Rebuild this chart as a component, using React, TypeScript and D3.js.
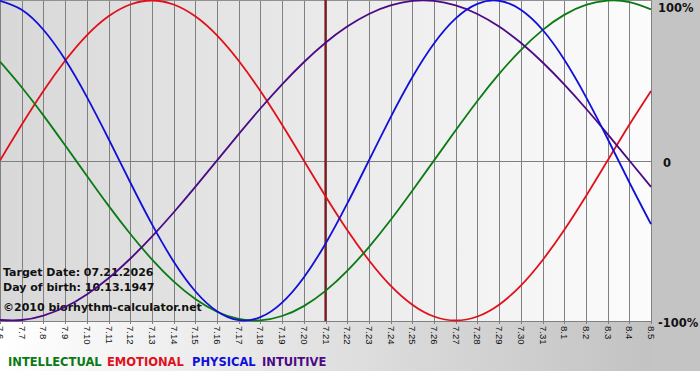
import React, { useEffect, useRef } from "react";
import * as d3 from "d3";

const dayLabels = [
  "7.6", "7.7", "7.8", "7.9", "7.10", "7.11", "7.12", "7.13", "7.14", "7.15",
  "7.16", "7.17", "7.18", "7.19", "7.20", "7.21", "7.22", "7.23", "7.24", "7.25",
  "7.26", "7.27", "7.28", "7.29", "7.30", "7.31", "8.1", "8.2", "8.3", "8.4", "8.5",
];

const physical = [
  0.998, 0.942, 0.817, 0.631, 0.398, 0.136, -0.136, -0.398, -0.631, -0.817,
  -0.942, -0.998, -0.979, -0.888, -0.731, -0.520, -0.270, 0.0, 0.270, 0.520,
  0.731, 0.888, 0.979, 0.998, 0.942, 0.817, 0.631, 0.398, 0.136, -0.136, -0.398,
];

const emotional = [
  0.0, 0.223, 0.434, 0.623, 0.782, 0.901, 0.975, 1.0, 0.975, 0.901,
  0.782, 0.623, 0.434, 0.223, 0.0, -0.223, -0.434, -0.623, -0.782, -0.901,
  -0.975, -1.0, -0.975, -0.901, -0.782, -0.623, -0.434, -0.223, 0.0, 0.223, 0.434,
];

const intellectual = [
  0.618, 0.458, 0.282, 0.095, -0.095, -0.282, -0.458, -0.618, -0.756, -0.866,
  -0.945, -0.990, -0.999, -0.972, -0.910, -0.815, -0.690, -0.541, -0.372, -0.189,
  0.0, 0.189, 0.372, 0.541, 0.690, 0.815, 0.910, 0.972, 0.999, 0.990, 0.945,
];

const intuitive = [
  -0.997, -0.997, -0.969, -0.916, -0.837, -0.736, -0.614, -0.476, -0.325, -0.165,
  0.0, 0.165, 0.325, 0.476, 0.614, 0.736, 0.837, 0.916, 0.969, 0.997,
  0.997, 0.969, 0.916, 0.837, 0.736, 0.614, 0.476, 0.325, 0.165, 0.0, -0.165,
];

const targetDay = "7.21";
const yTicks = [1, 0, -1];
const yTickLabels = ["100%", "0", "-100%"];
const infoLines = ["Target Date: 07.21.2026", "Day of birth: 10.13.1947", "©2010 biorhythm-calculator.net"];

const seriesNames = ["INTELLECTUAL", "EMOTIONAL", "PHYSICAL", "INTUITIVE"];
const seriesData = [intellectual, emotional, physical, intuitive];
const seriesColors = ["#0a7a14", "#e0101c", "#1010d8", "#4c0a84"];
const drawOrder = [1, 0, 3, 2];

export default function App() {
  const ref = useRef<SVGSVGElement | null>(null);

  useEffect(() => {
    document.body.style.margin = "0";
    const svg = d3.select(ref.current);
    svg.selectAll("*").remove();
    const W = 700, H = 380;
    const left = 0, right = 651, top = 0, bottom = 321;

    const defs = svg.append("defs");
    const og = defs.append("linearGradient").attr("id", "outerG").attr("x1", "0").attr("x2", "1").attr("y1", "0").attr("y2", "0");
    og.append("stop").attr("offset", "0").attr("stop-color", "#ffffff");
    og.append("stop").attr("offset", "1").attr("stop-color", "#bebebe");
    const pg = defs.append("linearGradient").attr("id", "plotG").attr("x1", "0").attr("x2", "1").attr("y1", "0").attr("y2", "0");
    pg.append("stop").attr("offset", "0").attr("stop-color", "#d8d8d8");
    pg.append("stop").attr("offset", "1").attr("stop-color", "#fcfcfc");

    svg.append("rect").attr("width", W).attr("height", H).attr("fill", "#ffffff");
    svg.append("rect").attr("width", W).attr("height", 371).attr("fill", "url(#outerG)");
    svg.append("rect").attr("x", right).attr("y", 0).attr("width", W - right).attr("height", 371).attr("fill", "#c4c4c4");

    const x = d3.scalePoint<string>().domain(dayLabels).range([left, right]);
    const y = d3.scaleLinear().domain([-1, 1]).range([bottom - 0.5, top + 0.5]);

    svg.append("rect").attr("x", left).attr("y", top).attr("width", right - left).attr("height", bottom - top).attr("fill", "url(#plotG)");

    // vertical grid
    svg.append("g").selectAll("line").data(dayLabels).join("line")
      .attr("x1", (d) => Math.round(x(d)!) + 0.5).attr("x2", (d) => Math.round(x(d)!) + 0.5)
      .attr("y1", top).attr("y2", bottom + 3)
      .attr("stroke", "#808080").attr("stroke-width", 1);

    // horizontal lines
    svg.append("line").attr("x1", left).attr("x2", right + 1).attr("y1", Math.round(y(0)) + 0.5).attr("y2", Math.round(y(0)) + 0.5).attr("stroke", "#808080");
    svg.append("line").attr("x1", left).attr("x2", right + 1).attr("y1", top + 0.5).attr("y2", top + 0.5).attr("stroke", "#909090");
    svg.append("line").attr("x1", left).attr("x2", right + 1).attr("y1", bottom + 0.5).attr("y2", bottom + 0.5).attr("stroke", "#808080");

    // target line
    const tx = x(targetDay)!;
    svg.append("line").attr("x1", tx).attr("x2", tx).attr("y1", top).attr("y2", bottom)
      .attr("stroke", "#7a1a1a").attr("stroke-width", 2.2);

    // info text
    const info = svg.append("g").attr("font-family", "DejaVu Sans").attr("font-weight", "bold").attr("font-size", 11).attr("fill", "#111");
    const infoY = [276, 291, 311];
    infoLines.forEach((t, i) => {
      info.append("text").attr("x", 3).attr("y", infoY[i]).text(t);
    });

    // curves
    const line = d3.line<number>()
      .x((_, i) => x(dayLabels[i])!)
      .y((d) => y(d))
      .curve(d3.curveNatural);
    const g = svg.append("g");
    drawOrder.forEach((si) => {
      g.append("path").attr("d", line(seriesData[si])!)
        .attr("fill", "none").attr("stroke", seriesColors[si]).attr("stroke-width", 1.8);
    });

    // x labels
    svg.append("g").selectAll("text").data(dayLabels).join("text")
      .attr("transform", (d) => `translate(${x(d)! + 0.5},${bottom + 5}) rotate(90)`)
      .attr("dominant-baseline", "central")
      .attr("font-family", "Liberation Sans").attr("font-size", 9.5)
      .attr("fill", "#111")
      .text((d) => d);

    // y labels
    const yOff = [7, 2, 2];
    svg.append("g").selectAll("text").data(yTicks).join("text")
      .attr("x", (d, i) => (i === 1 ? 663 : 658))
      .attr("y", (d, i) => y(d) + yOff[i])
      .attr("dominant-baseline", "central")
      .attr("font-family", "DejaVu Sans").attr("font-weight", "bold").attr("font-size", 11.5)
      .attr("fill", "#111")
      .text((d, i) => yTickLabels[i]);

    // legend
    const legendX = [8, 107, 192, 262];
    const lg = svg.append("g")
      .attr("font-family", "DejaVu Sans").attr("font-weight", "bold").attr("font-size", 11.5);
    seriesNames.forEach((n, i) => {
      lg.append("text").attr("x", legendX[i]).attr("y", 366).attr("fill", seriesColors[i]).text(n);
    });
  }, []);

  return <svg ref={ref} width={700} height={380} style={{ display: "block" }} />;
}
